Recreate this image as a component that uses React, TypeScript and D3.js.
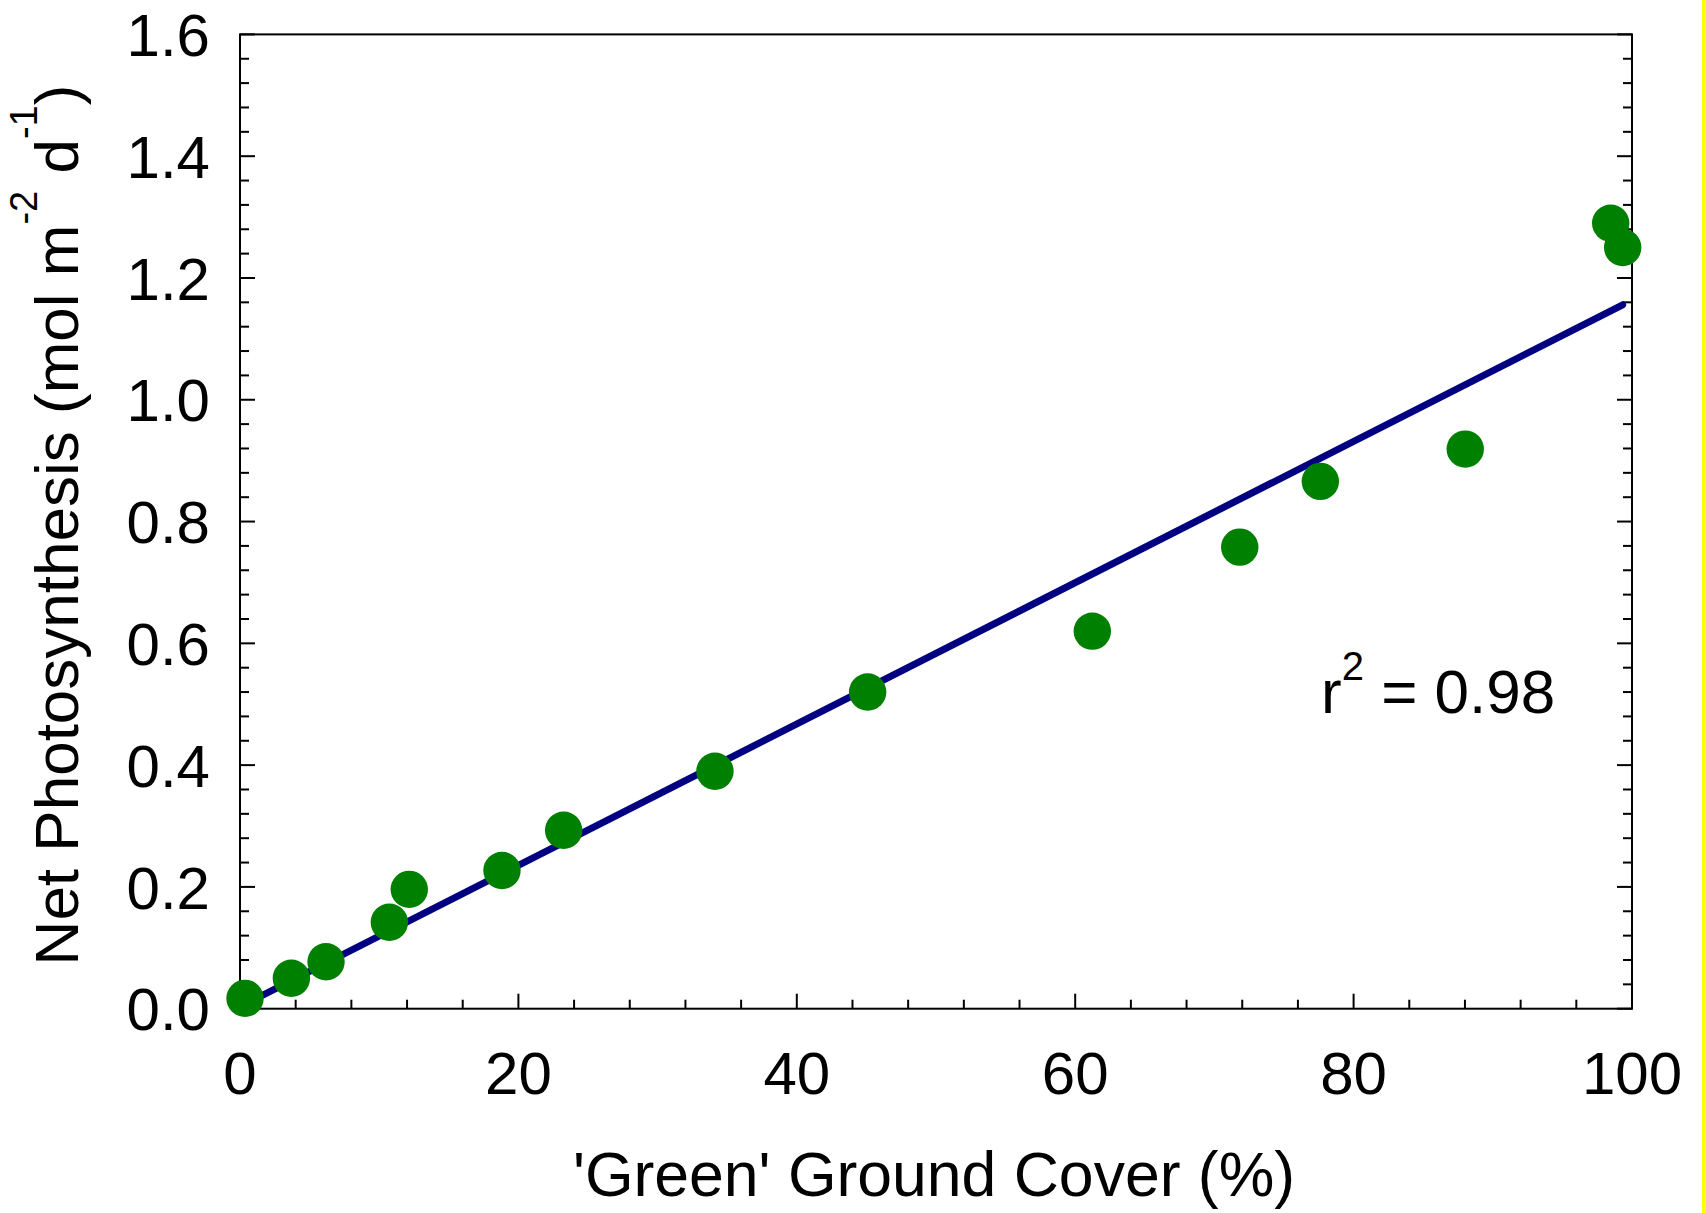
import React from "react";
import * as d3 from "d3";

// Data
const groundCover: number[] = [0.36, 3.69, 6.18, 10.73, 12.16, 18.82, 23.25, 34.12, 45.09, 61.23, 71.82, 77.61, 88.02, 98.47, 99.33];
const netPhoto: number[] = [0.017, 0.050, 0.077, 0.142, 0.196, 0.227, 0.293, 0.390, 0.520, 0.620, 0.758, 0.866, 0.919, 1.290, 1.250];

// Linear fit line (endpoints in data units)
const fitX: number[] = [0.36, 99.33];
const fitY: number[] = [0.0075, 1.156];

const xMajorTicks: number[] = [0, 20, 40, 60, 80, 100];
const yMajorTicks: number[] = [0.0, 0.2, 0.4, 0.6, 0.8, 1.0, 1.2, 1.4, 1.6];
const xMinorStep = 4;
const yMinorStep = 0.04;

const xTitle = "'Green' Ground Cover (%)";
const rSquaredLabel = "0.98";

const W = 1706;
const H = 1213;
const FONT = "'Liberation Sans', Arial, Helvetica, sans-serif";

export default function App() {
  const left = 240, right = 1632, top = 34.4, bottom = 1008.7;
  const x = d3.scaleLinear().domain([0, 100]).range([left, right]);
  const y = d3.scaleLinear().domain([0, 1.6]).range([bottom, top]);

  const xMinor = d3.range(0, 100 + 1e-9, xMinorStep).filter((v) => {
    const r = Math.abs(v / 20 - Math.round(v / 20));
    return r > 1e-6;
  });
  const yMinor = d3.range(0, 1.6 + 1e-9, yMinorStep).filter((v) => {
    const r = Math.abs(v / 0.2 - Math.round(v / 0.2));
    return r > 1e-6;
  });

  const majLen = 15, minLen = 9;
  const fitLine = d3.line<number>()
    .x((_, i) => x(fitX[i]))
    .y((d) => y(d));

  const tickStroke = { stroke: "#000", strokeWidth: 2 };

  return (
    <svg width={W} height={H} style={{ position: "absolute", left: 0, top: 0, display: "block", background: "#fff" }} fontFamily={FONT}>
      <rect x={0} y={0} width={W} height={H} fill="#fff" />
      <rect x={1702} y={0} width={4} height={H} fill="#ffff00" />

      {/* frame */}
      <rect x={left} y={top} width={right - left} height={bottom - top} fill="none" stroke="#000" strokeWidth={2} />

      {/* left & right ticks */}
      {yMajorTicks.map((v) => (
        <g key={"ym" + v}>
          <line x1={left} x2={left + majLen} y1={y(v)} y2={y(v)} {...tickStroke} />
          <line x1={right} x2={right - majLen} y1={y(v)} y2={y(v)} {...tickStroke} />
          <text x={210} y={y(v)} dy="0.36em" textAnchor="end" fontSize={60} fill="#000">
            {d3.format(".1f")(v)}
          </text>
        </g>
      ))}
      {yMinor.map((v) => (
        <g key={"yn" + v}>
          <line x1={left} x2={left + minLen} y1={y(v)} y2={y(v)} {...tickStroke} />
          <line x1={right} x2={right - minLen} y1={y(v)} y2={y(v)} {...tickStroke} />
        </g>
      ))}

      {/* bottom ticks */}
      {xMajorTicks.map((v) => (
        <g key={"xm" + v}>
          <line x1={x(v)} x2={x(v)} y1={bottom} y2={bottom - majLen} {...tickStroke} />
          <text x={x(v)} y={1094} textAnchor="middle" fontSize={60} fill="#000">
            {v}
          </text>
        </g>
      ))}
      {xMinor.map((v) => (
        <line key={"xn" + v} x1={x(v)} x2={x(v)} y1={bottom} y2={bottom - minLen} {...tickStroke} />
      ))}

      {/* fit line */}
      <path d={fitLine(fitY) || ""} fill="none" stroke="#000080" strokeWidth={7} strokeLinecap="round" />

      {/* points */}
      {groundCover.map((gx, i) => (
        <circle key={"p" + i} cx={x(gx)} cy={y(netPhoto[i])} r={18.7} fill="#008000" />
      ))}

      {/* r^2 annotation */}
      <text x={1321} y={713} fontSize={62} fill="#000">
        r<tspan fontSize={40} dy={-33}>2</tspan>
        <tspan dy={33}>{" = " + rSquaredLabel}</tspan>
      </text>

      {/* x title */}
      <text x={934} y={1196} textAnchor="middle" fontSize={62.5} fill="#000">
        {xTitle}
      </text>

      {/* y title */}
      <text transform={`translate(78, 525) rotate(-90)`} textAnchor="middle" fontSize={62} fill="#000">
        Net Photosynthesis (mol m<tspan fontSize={38} dy={-41}>-2</tspan>
        <tspan dy={41}> d</tspan>
        <tspan fontSize={38} dy={-41}>-1</tspan>
        <tspan dy={41}>)</tspan>
      </text>
    </svg>
  );
}
